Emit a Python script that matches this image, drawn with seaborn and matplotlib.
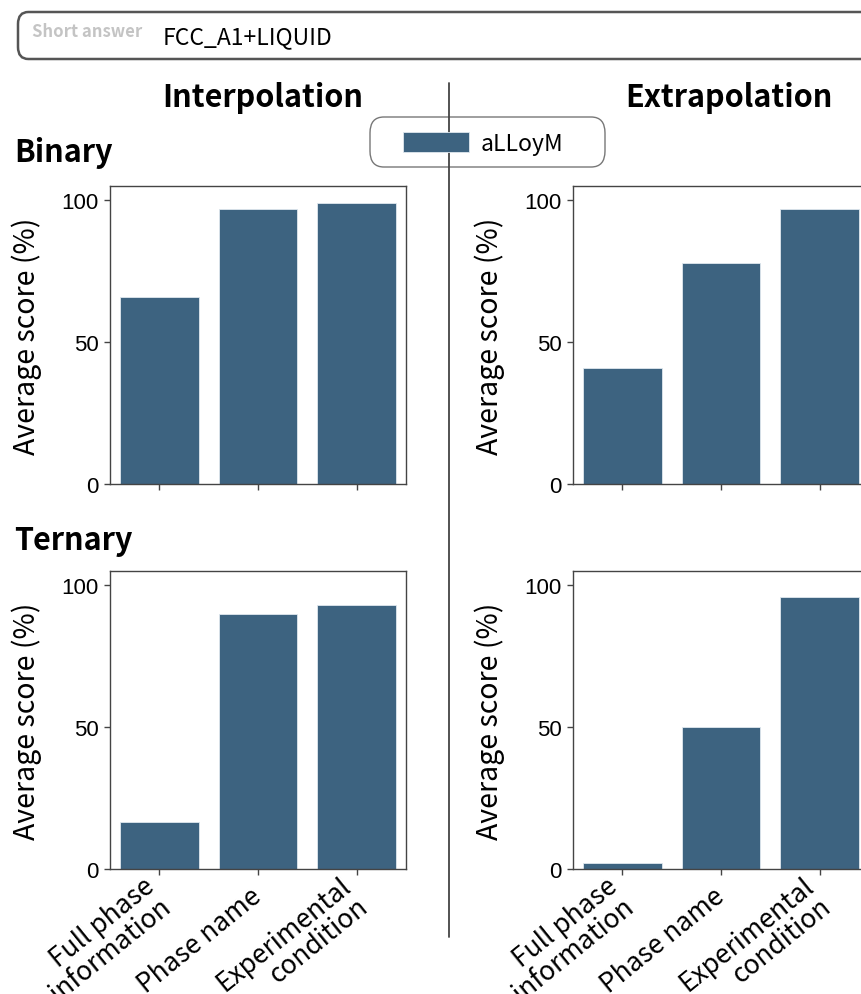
import matplotlib
matplotlib.use("Agg")
import matplotlib.pyplot as plt
from matplotlib.patches import FancyBboxPatch
from matplotlib.lines import Line2D
import seaborn as sns
import pandas as pd

# ---------------- data ----------------
categories = ["Full phase\ninformation", "Phase name", "Experimental\ncondition"]
binary_interpolation = [66, 97, 99]
binary_extrapolation = [41, 78, 97]
ternary_interpolation = [16.5, 90, 93]
ternary_extrapolation = [2, 50, 96]
model_name = "aLLoyM"
column_titles = ["Interpolation", "Extrapolation"]
row_titles = ["Binary", "Ternary"]
short_answer_label = "Short answer"
short_answer_text = "FCC_A1+LIQUID"
y_label = "Average score (%)"
y_ticks = [0, 50, 100]

BAR_COLOR = "#3d6380"
W, H = 862, 995

sns.set_theme(style="ticks")
plt.rcParams["font.family"] = ["Noto Sans CJK JP", "DejaVu Sans"]
plt.rcParams["text.color"] = "black"
plt.rcParams["axes.labelcolor"] = "black"
plt.rcParams["xtick.color"] = "black"
plt.rcParams["ytick.color"] = "black"

fig = plt.figure(figsize=(W / 100, H / 100), dpi=100)


def px_axes(left, top, width, height):
    return fig.add_axes([left / W, 1 - (top + height) / H, width / W, height / H])


panels = [
    (binary_interpolation, 110, 187),
    (binary_extrapolation, 573, 187),
    (ternary_interpolation, 110, 572),
    (ternary_extrapolation, 573, 572),
]

axes = []
for i, (vals, left, top) in enumerate(panels):
    ax = px_axes(left, top, 296, 298)
    df = pd.DataFrame({"category": categories, "score": vals})
    sns.barplot(data=df, x="category", y="score", color=BAR_COLOR, ax=ax,
                width=0.8, saturation=1, edgecolor="#dfe7ee", linewidth=0.6,
                label=model_name if i == 0 else None)
    ax.set_ylim(0, 105)
    ax.set_yticks(y_ticks)
    ax.set_xlim(-0.5, 2.5)
    for sp in ax.spines.values():
        sp.set_color("#444444")
        sp.set_linewidth(1.0)
    ax.tick_params(axis="both", length=4, width=1, color="#444444", pad=4)
    for t in ax.get_yticklabels():
        t.set_fontfamily("Liberation Sans")
        t.set_fontsize(16)
    ax.set_xlabel("")
    ax.set_ylabel(y_label, fontsize=20.5)
    ax.yaxis.set_label_coords(-0.23, 0.5)
    ax.set_xticks(range(len(categories)))
    if i >= 2:
        ax.set_xticklabels(categories, rotation=39, ha="right", va="center",
                           rotation_mode="anchor", fontsize=19,
                           linespacing=1.0)
        ax.tick_params(axis="x", pad=13)
        for t, dx in zip(ax.get_xticklabels(), [0, 0, 0]):
            pass
    else:
        ax.set_xticklabels([])
    axes.append(ax)

# column titles
fig.text(263 / W, 1 - 98 / H, column_titles[0], ha="center", va="center",
         fontsize=22, fontweight="bold")
fig.text(729 / W, 1 - 98 / H, column_titles[1], ha="center", va="center",
         fontsize=22, fontweight="bold")
# row titles
fig.text(14 / W, 1 - 153 / H, row_titles[0], ha="left", va="center",
         fontsize=22, fontweight="bold")
fig.text(14 / W, 1 - 541 / H, row_titles[1], ha="left", va="center",
         fontsize=22, fontweight="bold")

# vertical separator
fig.add_artist(Line2D([449 / W, 449 / W], [1 - 84 / H, 1 - 938 / H],
                      transform=fig.transFigure, color="#444444", lw=1.3))

# top short answer box
box = FancyBboxPatch((18 / W, 1 - 60 / H), 900 / W, 47 / H,
                     boxstyle="round,pad=0,rounding_size=0.012",
                     transform=fig.transFigure, facecolor="white",
                     edgecolor="#555555", lw=1.8)
fig.add_artist(box)
fig.text(32 / W, 1 - 32 / H, short_answer_label, ha="left", va="center",
         fontsize=12, fontweight="bold", color="#c4c4c4")
fig.text(163 / W, 1 - 38 / H, short_answer_text, ha="left", va="center",
         fontsize=16.5, color="black")

# legend frame (drawn separately for its wide horizontal padding)
leg_box = FancyBboxPatch((370 / W, 1 - 168 / H), 235 / W, 50 / H,
                         boxstyle="round,pad=0,rounding_size=0.016",
                         transform=fig.transFigure, facecolor="white",
                         edgecolor="#777777", lw=1.0)
fig.add_artist(leg_box)
handles, labels = axes[0].get_legend_handles_labels()
leg = fig.legend(handles, labels, loc="center",
                 bbox_to_anchor=(483 / W, 1 - 144 / H),
                 fontsize=16.5, handlelength=2.9, handleheight=0.95,
                 borderpad=0.2, handletextpad=0.5, borderaxespad=0,
                 frameon=False)
for ax in axes:
    lg = ax.get_legend()
    if lg is not None:
        lg.remove()

fig.savefig("out.png", dpi=100)
